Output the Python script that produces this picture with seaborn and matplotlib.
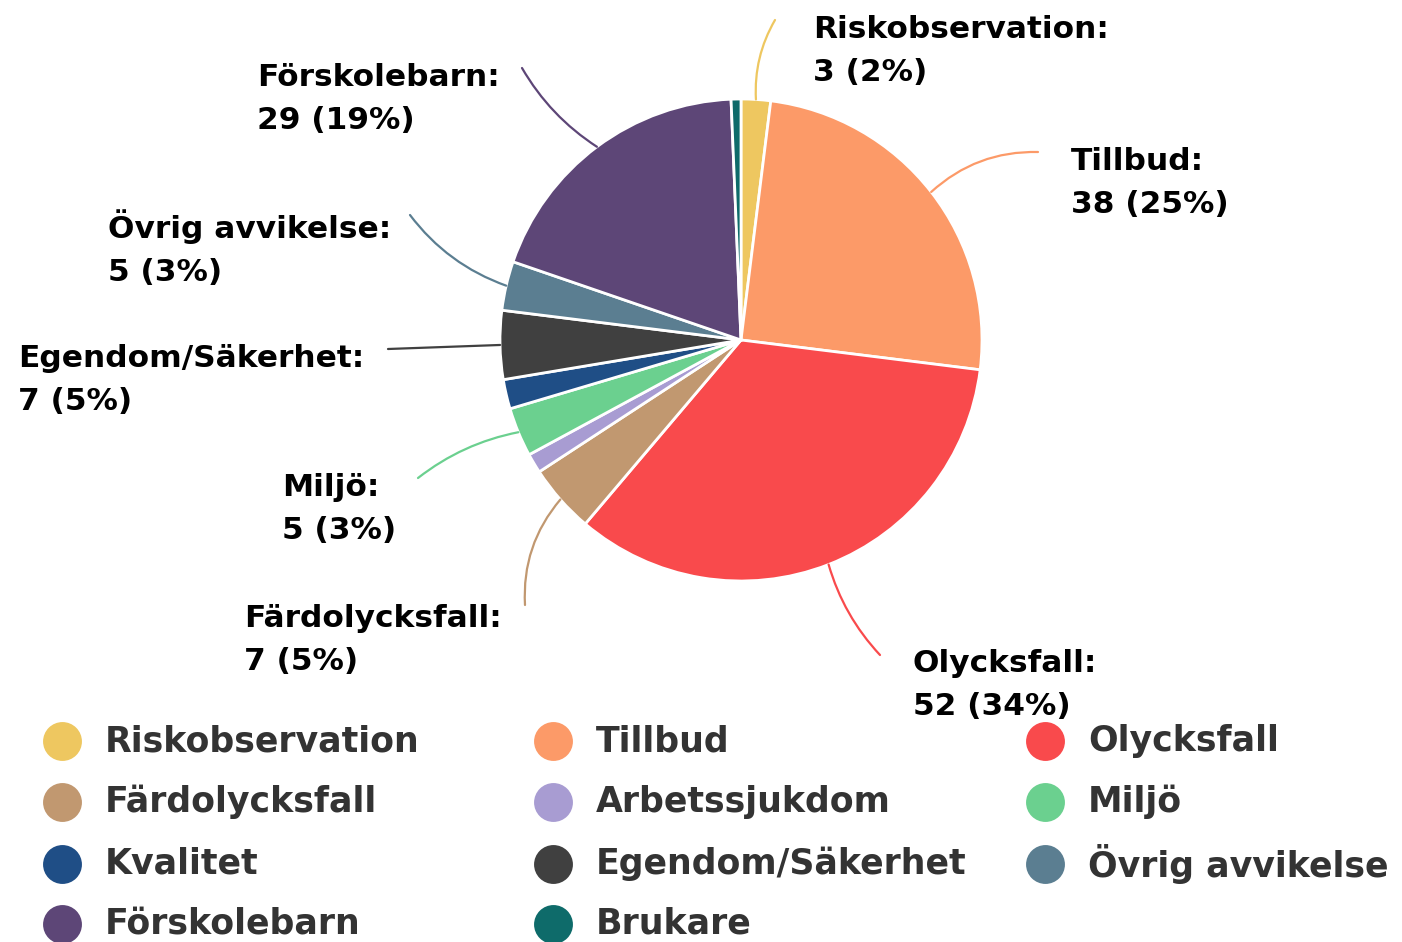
import numpy as np
import matplotlib
matplotlib.use("Agg")
import matplotlib.pyplot as plt
import seaborn as sns

# data
categories = ["Riskobservation", "Tillbud", "Olycksfall", "Färdolycksfall", "Arbetssjukdom",
              "Miljö", "Kvalitet", "Egendom/Säkerhet", "Övrig avvikelse", "Förskolebarn", "Brukare"]
counts = [3, 38, 52, 7, 2, 5, 3, 7, 5, 29, 1]
colors = ["#EEC760", "#FC9A68", "#F94A4C", "#C19870", "#A89CD2", "#6BD08F",
          "#1F4E86", "#404040", "#5B7E91", "#5D4677", "#0E6B6A"]

# label blocks (left x, centre y in pixels) and connector end points
label_pos = {
    "Riskobservation": (813, 51, 775, 20),
    "Tillbud": (1071, 183, 1038, 152),
    "Olycksfall": (913, 685, 880, 655),
    "Färdolycksfall": (244, 640, 525, 605),
    "Miljö": (282, 509, 418, 478),
    "Egendom/Säkerhet": (18, 380, 388, 349),
    "Övrig avvikelse": (108, 248, 410, 215),
    "Förskolebarn": (257, 99, 522, 68),
}
label_rad = {
    "Riskobservation": 0.15, "Tillbud": 0.2, "Olycksfall": -0.12, "Färdolycksfall": -0.2,
    "Miljö": -0.12, "Egendom/Säkerhet": 0.0, "Övrig avvikelse": 0.15, "Förskolebarn": 0.12,
}

W, H = 1402, 942
sns.set_theme(style="white")
plt.rcParams["font.family"] = ["DejaVu Sans"]

fig = plt.figure(figsize=(W / 100, H / 100), dpi=100)
ax = fig.add_axes([0, 0, 1, 1])

cx, cy, R = 741, 340, 241
palette = sns.color_palette(colors)
wedges, _ = ax.pie(counts, colors=palette, startangle=90, counterclock=False,
                   center=(cx, H - cy), radius=R, frame=True,
                   wedgeprops=dict(edgecolor="white", linewidth=2))
ax.set_xlim(0, W)
ax.set_ylim(0, H)
ax.axis("off")

total = sum(counts)
for w, name, n in zip(wedges, categories, counts):
    if name not in label_pos:
        continue
    mid = np.deg2rad((w.theta1 + w.theta2) / 2)
    sx, sy = cx + R * np.cos(mid), (H - cy) + R * np.sin(mid)
    tx, ty, ex, ey = label_pos[name]
    ax.annotate("", xy=(sx, sy), xytext=(ex, H - ey),
                arrowprops=dict(arrowstyle="-", color=w.get_facecolor(), lw=1.6,
                                shrinkA=0, shrinkB=0,
                                connectionstyle=f"arc3,rad={label_rad[name]}"))
    ax.text(tx, H - ty, f"{name}:\n{n} ({round(n / total * 100)}%)",
            ha="left", va="center", fontsize=22.5, fontweight="bold",
            color="black", linespacing=1.6)

# legend, three items per row
col_x = [62, 553, 1045]
row_y = [741, 802, 864, 924]
for i, (name, c) in enumerate(zip(categories, palette)):
    x = col_x[i % 3]
    y = H - row_y[i // 3]
    ax.plot(x, y, "o", ms=28, color=c, mec="none")
    ax.text(x + 43, y, name, ha="left", va="center", fontsize=25,
            fontweight="bold", color="#333333")

fig.savefig("out.png", dpi=100)
